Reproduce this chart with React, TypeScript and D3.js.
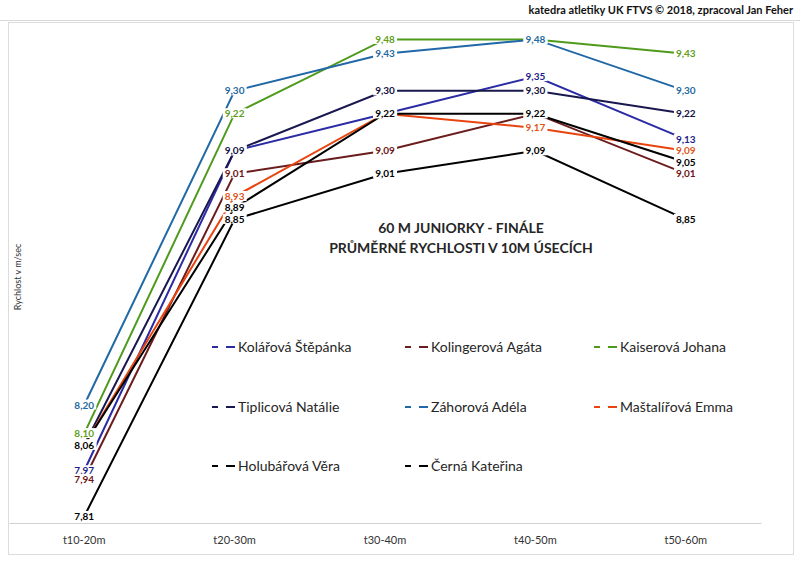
import React, { useEffect, useRef } from 'react';
import * as d3 from 'd3';

const categories = ['t10-20m', 't20-30m', 't30-40m', 't40-50m', 't50-60m'];

const runnerNames = [
    'Kolářová Štěpánka',
    'Kolingerová Agáta',
    'Kaiserová Johana',
    'Tiplicová Natálie',
    'Záhorová Adéla',
    'Maštalířová Emma',
    'Holubářová Věra',
    'Černá Kateřina',
];

const kolarova = [7.97, 9.09, 9.22, 9.35, 9.13];
const kolingerova = [7.94, 9.01, 9.09, 9.22, 9.01];
const kaiserova = [8.10, 9.22, 9.48, 9.48, 9.43];
const tiplicova = [8.06, 9.09, 9.30, 9.30, 9.22];
const zahorova = [8.20, 9.30, 9.43, 9.48, 9.30];
const mastalirova = [8.06, 8.93, 9.22, 9.17, 9.09];
const holubarova = [8.06, 8.89, 9.22, 9.22, 9.05];
const cerna = [7.81, 8.85, 9.01, 9.09, 8.85];

const seriesValues = [kolarova, kolingerova, kaiserova, tiplicova, zahorova, mastalirova, holubarova, cerna];

const lineColors = ['#2b2ba6', '#6b1c1c', '#4e9a1c', '#18184f', '#2068a6', '#e8440f', '#000000', '#000000'];
const labelColors = ['#1c1c8a', '#6e1414', '#62a01c', '#121242', '#1f6a9e', '#e0561a', '#000000', '#000000'];

const W = 800;
const H = 563;

export default function App() {
    const svgRef = useRef<SVGSVGElement>(null);

    useEffect(() => {
        if (!svgRef.current) return;
        const svg = d3.select(svgRef.current);
        svg.selectAll('*').remove();

        const font = 'Lato, "Open Sans", sans-serif';

        svg.append('rect').attr('width', W).attr('height', H).attr('fill', '#fff');

        // header + frame
        svg.append('text')
            .attr('x', 793).attr('y', 14)
            .attr('text-anchor', 'end')
            .attr('font-family', font).attr('font-weight', 'bold').attr('font-size', 11)
            .attr('fill', '#111')
            .text('katedra atletiky UK FTVS © 2018, zpracoval Jan Feher');
        svg.append('line').attr('x1', 0).attr('x2', W).attr('y1', 20.5).attr('y2', 20.5)
            .attr('stroke', '#d8d8d8');
        svg.append('rect').attr('x', 8.5).attr('y', 22.5).attr('width', 785).attr('height', 532)
            .attr('fill', 'none').attr('stroke', '#dcdcdc');

        // scales
        const x = d3.scaleBand().domain(categories).range([9, 761]);
        const y = d3.scaleLinear().domain([7.78, 9.52]).range([525, 28]);
        const cx = (c: string) => (x(c) ?? 0) + x.bandwidth() / 2;

        // x axis
        const xAxis = svg.append('g')
            .attr('transform', 'translate(0,523)')
            .call(d3.axisBottom(x).tickSize(0).tickPadding(13));
        xAxis.select('.domain').attr('stroke', '#d0d0d0');
        xAxis.selectAll('text')
            .attr('font-family', font).attr('font-size', 11).attr('fill', '#333');

        // y title
        svg.append('text')
            .attr('transform', 'translate(21,277) rotate(-90)')
            .attr('text-anchor', 'middle')
            .attr('font-family', font).attr('font-size', 9).attr('fill', '#333')
            .text('Rychlost v m/sec');

        // chart title
        const title = svg.append('text')
            .attr('text-anchor', 'middle')
            .attr('font-family', font).attr('font-weight', 'bold').attr('font-size', 14)
            .attr('fill', '#262626');
        title.append('tspan').attr('x', 461).attr('y', 233).text('60 M JUNIORKY - FINÁLE');
        title.append('tspan').attr('x', 461).attr('y', 253).text('PRŮMĚRNÉ RYCHLOSTI V 10M ÚSECÍCH');

        // lines
        const line = d3.line<number>()
            .x((_, i) => cx(categories[i]))
            .y(d => y(d));

        seriesValues.forEach((vals, si) => {
            svg.append('path')
                .datum(vals)
                .attr('d', line)
                .attr('fill', 'none')
                .attr('stroke', lineColors[si])
                .attr('stroke-width', 2);
        });

        // data labels (white box behind, like Excel)
        const fmt = (v: number) => v.toFixed(2).replace('.', ',');
        seriesValues.forEach((vals, si) => {
            vals.forEach((v, i) => {
                const g = svg.append('g').attr('transform', `translate(${cx(categories[i])},${y(v)})`);
                const t = g.append('text')
                    .attr('text-anchor', 'middle')
                    .attr('dy', '0.35em')
                    .attr('font-family', font).attr('font-weight', 'bold').attr('font-size', 10)
                    .attr('fill', labelColors[si])
                    .text(fmt(v));
                const bb = (t.node() as SVGTextElement).getBBox();
                g.insert('rect', 'text')
                    .attr('x', bb.x - 2).attr('y', bb.y + 1)
                    .attr('width', bb.width + 4).attr('height', bb.height - 2)
                    .attr('fill', '#fff');
            });
        });

        // legend
        const legendX = [212, 405, 594];
        const legendY = [347, 407, 466];
        runnerNames.forEach((name, i) => {
            const lx = legendX[i % 3];
            const ly = legendY[Math.floor(i / 3)];
            const g = svg.append('g').attr('transform', `translate(${lx},${ly})`);
            g.append('line').attr('x1', 0).attr('x2', 6).attr('y1', 0).attr('y2', 0)
                .attr('stroke', lineColors[i]).attr('stroke-width', 2);
            g.append('line').attr('x1', 14).attr('x2', 23).attr('y1', 0).attr('y2', 0)
                .attr('stroke', lineColors[i]).attr('stroke-width', 2);
            g.append('text')
                .attr('x', 26).attr('dy', '0.35em')
                .attr('font-family', font).attr('font-size', 14).attr('fill', '#262626')
                .text(name);
        });
    }, []);

    return (
        <div style={{ position: 'absolute', left: 0, top: 0, width: W, height: H }}>
            <svg ref={svgRef} width={W} height={H} style={{ display: 'block' }} />
        </div>
    );
}
